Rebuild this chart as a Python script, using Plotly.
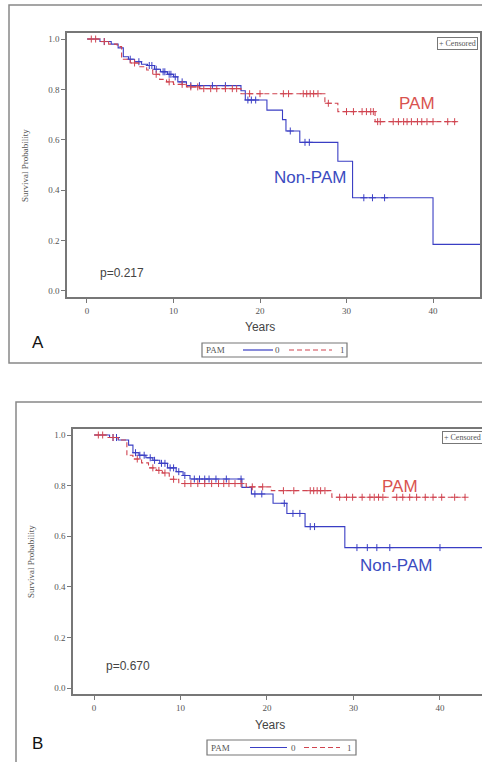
import numpy as np
import plotly.graph_objects as go

# ---------------- data ----------------
# Panel A
a_non_times = [0, 1.5, 2.8, 3.6, 4.2, 4.8, 5.5, 6.3, 7.0, 7.8, 8.5, 9.3, 10.0, 10.5, 11.5,
               17.8, 18.3, 20.8, 22.6, 23.0, 24.6, 29.0, 30.7, 40.0]
a_non_surv = [1.0, 0.99, 0.98, 0.965, 0.93, 0.92, 0.91, 0.90, 0.895, 0.88, 0.87, 0.86, 0.85, 0.83, 0.815,
              0.795, 0.758, 0.718, 0.68, 0.635, 0.59, 0.515, 0.37, 0.185]
a_non_end = 45.5
a_non_cens = [2.0, 5.0, 6.0, 7.2, 7.5, 8.0, 8.8, 9.0, 9.5, 9.7, 10.2, 11.0, 12.0, 13.0, 14.5, 16.0,
              18.6, 19.0, 19.5, 23.5, 25.2, 25.7, 32.0, 33.0, 34.4]

a_pam_times = [0, 1.5, 2.5, 3.5, 4.0, 5.0, 6.0, 6.9, 7.6, 8.4, 9.2, 10.0, 11.5, 13.0, 17.8, 27.5, 29.0, 33.3]
a_pam_surv = [1.0, 0.99, 0.98, 0.97, 0.92, 0.905, 0.89, 0.877, 0.86, 0.84, 0.83, 0.82, 0.81, 0.803, 0.783,
              0.745, 0.712, 0.672]
a_pam_end = 42.7
a_pam_cens = [0.5, 1.0, 2.0, 5.5, 8.0, 9.5, 11.0, 12.0, 12.8, 13.5, 14.3, 15.0, 16.0, 16.8, 17.3,
              18.8, 20.0, 22.7, 23.3, 25.0, 25.4, 25.8, 26.2, 26.7, 27.9, 30.0, 30.8, 31.8, 32.3,
              32.8, 33.1, 33.6, 33.9, 35.4, 36.0, 36.6, 37.0, 37.5, 38.2, 38.7, 39.3, 40.0, 41.7, 42.5]

# Panel B
b_non_times = [0, 1.8, 2.8, 4.0, 4.5, 5.2, 6.0, 6.8, 7.6, 8.5, 9.5, 10.3, 11.1, 17.1, 18.2,
               20.7, 22.3, 24.4, 29.0]
b_non_surv = [1.0, 0.99, 0.98, 0.96, 0.93, 0.92, 0.91, 0.90, 0.888, 0.87, 0.855, 0.84, 0.826, 0.793, 0.767,
              0.73, 0.69, 0.638, 0.555]
b_non_end = 45.0
b_non_cens = [2.2, 2.6, 4.8, 5.3, 5.8, 6.5, 7.0, 7.8, 8.2, 8.8, 9.2, 9.8, 10.5, 11.6, 12.2, 12.8,
              13.3, 14.1, 15.3, 17.0, 18.6, 19.4, 22.0, 23.0, 23.8, 25.0, 25.5,
              30.4, 31.6, 32.7, 34.2, 40.0]

b_pam_times = [0, 1.5, 2.8, 3.8, 4.5, 5.5, 6.3, 7.2, 7.9, 8.7, 9.8, 17.6, 20.5, 27.5]
b_pam_surv = [1.0, 0.99, 0.98, 0.92, 0.905, 0.89, 0.87, 0.86, 0.85, 0.825, 0.808, 0.795, 0.78, 0.754]
b_pam_end = 42.9
b_pam_cens = [0.5, 1.0, 2.2, 5.0, 6.8, 7.5, 8.2, 9.2, 10.5, 11.2, 12.0, 12.8, 13.6, 14.4, 15.0,
              15.6, 16.3, 17.0, 18.3, 19.5, 21.9, 23.1, 25.0, 25.4, 25.8, 26.2, 26.7,
              28.4, 29.2, 29.9, 31.0, 31.9, 32.4, 32.9, 33.4, 35.0, 35.7, 36.5, 37.3, 38.3,
              39.2, 40.2, 41.7, 42.9]

x_ticks = [0, 10, 20, 30, 40]
y_ticks = [0.0, 0.2, 0.4, 0.6, 0.8, 1.0]
y_tick_labels = ["0.0", "0.2", "0.4", "0.6", "0.8", "1.0"]
p_values = ["p=0.217", "p=0.670"]
panel_labels = ["A", "B"]
legend_title = "PAM"
group_codes = ["0", "1"]

BLUE = "#3a3ec4"
RED = "#d04450"
DASH = "5px,3px"
SERIF = "Liberation Serif, Times New Roman, serif"
SANS = "Liberation Sans, Arial, sans-serif"
W, H = 482, 762


def step_at(times, surv, t):
    times = np.asarray(times)
    surv = np.asarray(surv)
    idx = np.searchsorted(times, t, side="right") - 1
    return surv[idx]


fig = go.Figure()


def add_group(times, surv, end, cens, color, dash, xa, ya):
    xs = list(times) + [end]
    ys = list(surv) + [surv[-1]]
    fig.add_trace(go.Scatter(x=xs, y=ys, mode="lines", line=dict(color=color, width=1.1, dash=dash, shape="hv"),
                             xaxis=xa, yaxis=ya, showlegend=False, hoverinfo="skip"))
    cy = step_at(times, surv, np.asarray(cens))
    fig.add_trace(go.Scatter(x=cens, y=cy, mode="markers",
                             marker=dict(symbol="cross-thin", size=5, line=dict(color=color, width=1)),
                             xaxis=xa, yaxis=ya, showlegend=False, hoverinfo="skip"))


add_group(a_non_times, a_non_surv, a_non_end, a_non_cens, BLUE, "solid", "x", "y")
add_group(a_pam_times, a_pam_surv, a_pam_end, a_pam_cens, RED, DASH, "x", "y")
add_group(b_non_times, b_non_surv, b_non_end, b_non_cens, BLUE, "solid", "x2", "y2")
add_group(b_pam_times, b_pam_surv, b_pam_end, b_pam_cens, RED, DASH, "x2", "y2")


def px(x):
    return x / W


def py(y):
    return 1 - y / H


axis_common = dict(showline=True, linecolor="#777777", linewidth=1.5, ticks="outside", ticklen=4,
                   tickcolor="#777777", tickfont=dict(family=SERIF, size=9, color="#555555"),
                   showgrid=False, zeroline=False, fixedrange=True, automargin=False)

fig.update_layout(
    width=W, height=H, margin=dict(l=0, r=0, t=0, b=0, autoexpand=False),
    paper_bgcolor="white", plot_bgcolor="white", showlegend=False,
    xaxis=dict(domain=[px(67), px(480)], range=[-2.31, 45.43], tickvals=x_ticks, anchor="y",
               mirror=True, **axis_common),
    yaxis=dict(domain=[py(297), py(33)], range=[-0.024, 1.024], tickvals=y_ticks, ticktext=y_tick_labels,
               anchor="x", mirror=True, **axis_common),
    xaxis2=dict(domain=[px(73), 1.0], range=[-2.43, 44.86], tickvals=x_ticks, anchor="y2",
                mirror=True, **axis_common),
    yaxis2=dict(domain=[py(694), py(429)], range=[-0.0237, 1.0237], tickvals=y_ticks, ticktext=y_tick_labels,
                anchor="x2", mirror=False, **axis_common),
)

shapes = []
# outer panel frames
shapes.append(dict(type="rect", xref="paper", yref="paper", x0=px(9), x1=px(490), y0=py(363), y1=py(5),
                   line=dict(color="#888888", width=1.5), layer="below"))
shapes.append(dict(type="rect", xref="paper", yref="paper", x0=px(16), x1=px(490), y0=py(775), y1=py(402),
                   line=dict(color="#888888", width=1.5), layer="below"))

ann = []


def text(t, x, y, font, **kw):
    d = dict(text=t, x=px(x), y=py(y), xref="paper", yref="paper", showarrow=False, font=font,
             xanchor="center", yanchor="middle")
    d.update(kw)
    ann.append(d)


def bottom_legend(box, title_x, line0, code0_x, line1, code1_x, yc):
    shapes.append(dict(type="rect", xref="paper", yref="paper", x0=px(box[0]), x1=px(box[1]),
                       y0=py(box[3]), y1=py(box[2]), line=dict(color="#777777", width=1.2),
                       fillcolor="white"))
    lf = dict(family=SERIF, size=9, color="#555555")
    text(legend_title, title_x, yc, lf, xanchor="left")
    shapes.append(dict(type="line", xref="paper", yref="paper", x0=px(line0[0]), x1=px(line0[1]),
                       y0=py(yc), y1=py(yc), line=dict(color=BLUE, width=1.2)))
    text(group_codes[0], code0_x, yc, lf)
    shapes.append(dict(type="line", xref="paper", yref="paper", x0=px(line1[0]), x1=px(line1[1]),
                       y0=py(yc), y1=py(yc), line=dict(color=RED, width=1.2, dash=DASH)))
    text(group_codes[1], code1_x, yc, lf)


bottom_legend((202, 347, 343, 357), 204, (243, 273), 277, (289, 332), 342, 350)
bottom_legend((207, 356, 740, 755), 209, (250, 287), 293, (304, 340), 349, 747.5)

# axis titles
yf = dict(family=SANS, size=12, color="#444444")
text("Years", 260, 327, yf)
text("Years", 270, 725, yf)
sf = dict(family=SERIF, size=9, color="#555555")
text("Survival Probability", 25, 166, sf, textangle=-90)
text("Survival Probability", 31, 561, sf, textangle=-90)
# group labels
rf = dict(family=SANS, size=17, color="#d9534f")
bf = dict(family=SANS, size=17, color="#3b4bbf")
text("PAM", 417, 103, rf)
text("Non-PAM", 310, 177, bf)
text("PAM", 400, 486, rf)
text("Non-PAM", 396, 565, bf)
# p-values
pf = dict(family=SANS, size=12, color="#444444")
text(p_values[0], 122, 273, pf)
text(p_values[1], 128, 666, pf)
# panel letters
lf2 = dict(family=SANS, size=17, color="#111111")
text(panel_labels[0], 38, 342, lf2)
text(panel_labels[1], 37, 743, lf2)
# censored boxes
cf = dict(family=SERIF, size=8, color="#555555")
text("+ Censored", 478, 37, cf, xanchor="right", yanchor="top", bordercolor="#777777", borderwidth=1,
     borderpad=1, bgcolor="white")
text("+ Censored", 483, 431, cf, xanchor="right", yanchor="top", bordercolor="#777777", borderwidth=1,
     borderpad=1, bgcolor="white")

fig.update_layout(annotations=ann, shapes=shapes)

fig.write_html("out.html", config={"displayModeBar": False},
               post_script="document.body.style.margin='0';document.body.style.overflow='hidden';")
